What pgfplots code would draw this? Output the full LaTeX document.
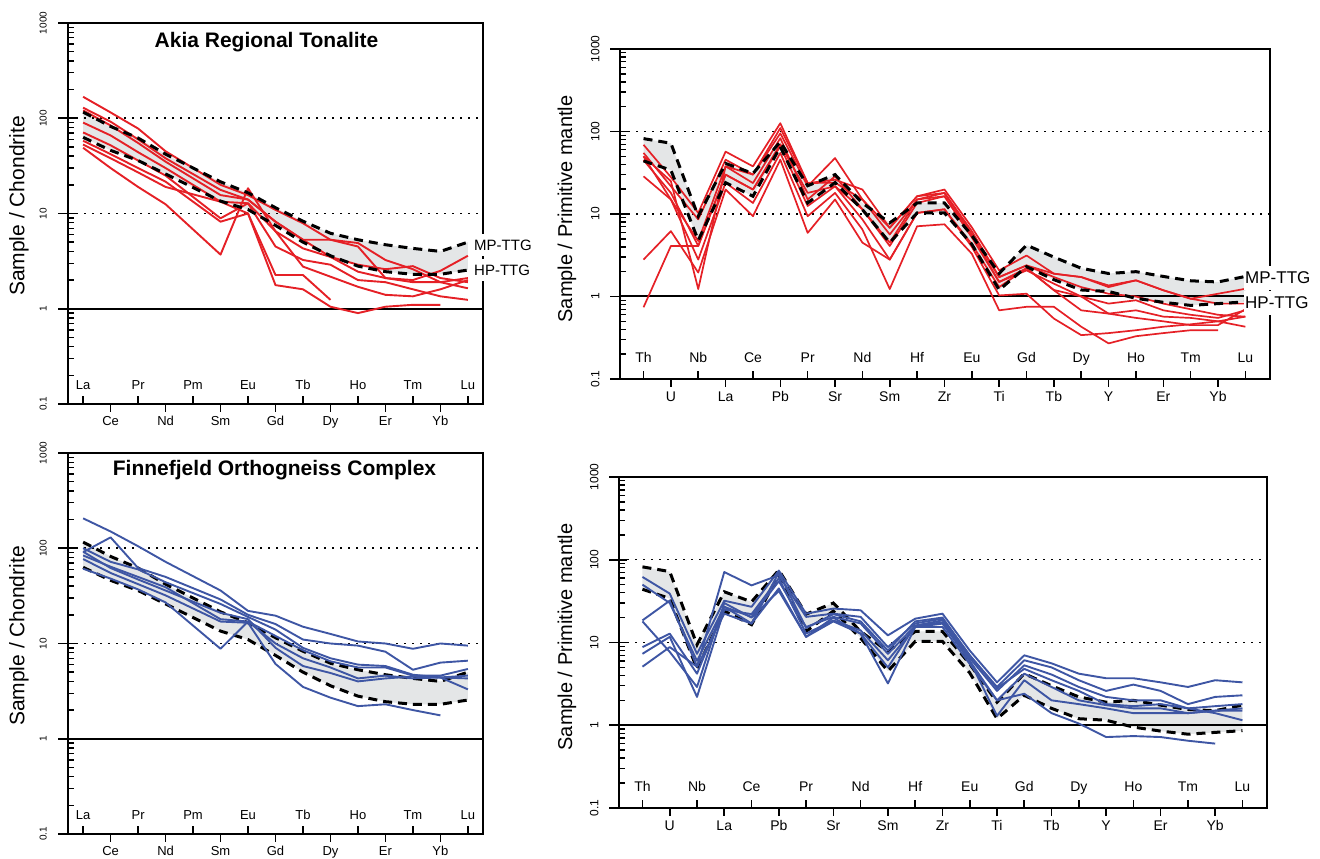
\documentclass[border=0pt]{standalone}
\usepackage{pgfplots}
\pgfplotsset{compat=1.18}
\usepackage{fontspec}
\setmainfont{Liberation Sans}
\definecolor{akred}{RGB}{229,32,38}
\definecolor{fnblue}{RGB}{62,86,164}
\definecolor{bandgray}{RGB}{228,230,231}

\newcommand\lbup[1]{\raisebox{14.4pt}{#1}}
\newcommand\lbdn[1]{\raisebox{-21.7pt}{#1}}
\newcommand\slup[1]{\raisebox{16pt}{#1}}
\newcommand\sldn[1]{\raisebox{-23pt}{#1}}
\newcommand\ylab[1]{\raisebox{21.4pt}{#1}}
\newcommand\yslab[1]{\raisebox{20.7pt}{#1}}

\newcommand\yticksat[1]{%
 \pgfplotsinvokeforeach{0.1,1,10,100,1000}{\draw[line width=1.6pt] ([xshift=-10pt]axis cs:#1,##1) -- ([xshift=8pt]axis cs:#1,##1);}%
 \pgfplotsinvokeforeach{0.2,0.3,0.4,0.5,0.6,0.7,0.8,0.9,2,3,4,5,6,7,8,9,20,30,40,50,60,70,80,90,200,300,400,500,600,700,800,900}{\draw[line width=1.4pt] (axis cs:#1,##1) -- ([xshift=6pt]axis cs:#1,##1);}%
}
\newcommand\xticksat[2]{%
 \pgfplotsinvokeforeach{#1}{\draw[line width=1.6pt] (axis cs:##1,0.1) -- ([yshift=8pt]axis cs:##1,0.1);}%
 \pgfplotsinvokeforeach{#2}{\draw[line width=1.6pt] (axis cs:##1,0.1) -- ([yshift=-8pt]axis cs:##1,0.1);}%
}

\pgfplotstableread{
x mp hp
0 116 63
1 82 46
2 62 36
3 42 26
5 21.5 13.5
6 16.5 11
7 11.5 7.5
8 8.3 5.0
9 6.2 3.6
10 5.3 2.8
11 4.7 2.45
12 4.3 2.3
13 4.0 2.3
14 5.0 2.55
}\reeref

\pgfplotstableread{
x mp hp
0 82 44
1 72 34
2 9.4 4.8
3 41 24
4 31 16.4
5 75 65
6 22 13.6
7 30 24
8 13.6 11.3
9 7.8 4.5
10 13.6 10.3
11 13.6 10.3
12 5.5 4.3
13 1.9 1.2
14 4.2 2.3
15 3.0 1.6
16 2.2 1.2
17 1.9 1.15
18 2.0 0.95
19 1.75 0.85
20 1.55 0.78
21 1.5 0.82
22 1.75 0.86
}\spiref

\begin{document}
\begin{tikzpicture}
\useasboundingbox (0,0) rectangle (1320pt,859pt);

% ---------------- Top left: Akia REE ----------------
\begin{axis}[scale only axis, width=415pt, height=381pt, at={(68pt,455pt)}, anchor=south west,
 xmin=-0.55, xmax=14.55, ymode=log, ymin=0.1, ymax=1000, clip=false,
 axis line style={line width=2.2pt}, tick style={draw=none},
 ytick={0.1,1,10,100,1000},
 yticklabels={\ylab{0.1},\ylab{1},\ylab{10},\ylab{100},\ylab{1000}},
 yticklabel style={rotate=90, anchor=base, font=\fontsize{10}{10}\selectfont},
 xtick={0,1,2,3,4,5,6,7,8,9,10,11,12,13,14},
 xticklabels={\lbup{La},\lbdn{Ce},\lbup{Pr},\lbdn{Nd},\lbup{Pm},\lbdn{Sm},\lbup{Eu},\lbdn{Gd},\lbup{Tb},\lbdn{Dy},\lbup{Ho},\lbdn{Er},\lbup{Tm},\lbdn{Yb},\lbup{Lu}},
 xticklabel style={anchor=base, font=\fontsize{13}{13}\selectfont}]
\addplot[forget plot, fill=bandgray, draw=none] coordinates {(0,116) (1,82) (2,62) (3,42) (5,21.5) (6,16.5) (7,11.5) (8,8.3) (9,6.2) (10,5.3) (11,4.7) (12,4.3) (13,4.0) (14,5.0) (14,2.55) (13,2.3) (12,2.3) (11,2.45) (10,2.8) (9,3.6) (8,5.0) (7,7.5) (6,11) (5,13.5) (3,26) (2,36) (1,46) (0,63)} -- cycle;
\addplot[forget plot, black, line width=1.5pt, dash pattern=on 1.5pt off 6.5pt] coordinates {(-0.55,100) (14.55,100)};
\addplot[forget plot, black, line width=1.5pt, dash pattern=on 1.5pt off 6.5pt] coordinates {(-0.55,10) (14.55,10)};
\addplot[forget plot, black, line width=2pt] coordinates {(-0.55,1) (14.55,1)};
\addplot[akred, line width=1.9pt, line join=round] coordinates {(0,168) (1,115) (2,78) (3,45) (5,20) (6,15.6) (7,10.9) (8,7.9) (9,5.3) (10,4.9) (11,3.25) (12,2.6) (13,1.9) (14,1.64)};
\addplot[akred, line width=1.9pt, line join=round] coordinates {(0,129) (1,92) (2,60) (3,38) (5,17.7) (6,14) (7,8.2) (8,5.3) (9,5.3) (10,4.5) (11,2.1) (12,2.0) (13,2.5) (14,3.6)};
\addplot[akred, line width=1.9pt, line join=round] coordinates {(0,121) (1,84) (2,55) (3,35) (5,15.6) (6,14) (7,8.2) (8,5.3) (9,3.5) (10,2.9) (11,2.6) (12,2.8) (13,2.1) (14,1.9)};
\addplot[akred, line width=1.9pt, line join=round] coordinates {(0,90) (1,66) (2,44) (3,30) (5,13.3) (6,12.8) (7,6.5) (8,4.3) (9,3.5) (10,2.45) (11,2.1) (12,1.9) (13,1.9) (14,2.1)};
\addplot[akred, line width=1.9pt, line join=round] coordinates {(0,71) (1,52) (2,36) (3,25) (5,8.9) (6,12.8) (7,4.5) (8,3.25) (9,2.9) (10,2.0) (11,1.9) (12,1.6) (13,1.35) (14,1.24)};
\addplot[akred, line width=1.9pt, line join=round] coordinates {(0,58) (1,42) (2,30) (3,21.6) (5,8.2) (6,10) (7,2.26) (8,2.26) (9,1.24)};
\addplot[akred, line width=1.9pt, line join=round] coordinates {(0,53) (1,38) (2,27) (3,19) (5,13.3) (6,10) (7,1.77) (8,1.6) (9,1.05) (10,0.9) (11,1.05) (12,1.1) (13,1.1)};
\addplot[akred, line width=1.9pt, line join=round] coordinates {(0,49) (1,30) (2,19) (3,12.5) (5,3.7) (6,18.4) (7,6.5) (8,2.77) (9,2.17) (10,1.7) (11,1.4) (12,1.35) (13,1.6) (14,2.0)};
\addplot[black, line width=3pt, dash pattern=on 9pt off 6pt] table[x=x,y=mp]{\reeref};
\addplot[black, line width=3pt, dash pattern=on 9pt off 6pt] table[x=x,y=hp]{\reeref};
\yticksat{-0.55}
\xticksat{0,2,4,6,8,10,12,14}{1,3,5,7,9,11,13}
\end{axis}

% ---------------- Bottom left: Finnefjeld REE ----------------
\begin{axis}[scale only axis, width=415pt, height=381pt, at={(68pt,25pt)}, anchor=south west,
 xmin=-0.55, xmax=14.55, ymode=log, ymin=0.1, ymax=1000, clip=false,
 axis line style={line width=2.2pt}, tick style={draw=none},
 ytick={0.1,1,10,100,1000},
 yticklabels={\ylab{0.1},\ylab{1},\ylab{10},\ylab{100},\ylab{1000}},
 yticklabel style={rotate=90, anchor=base, font=\fontsize{10}{10}\selectfont},
 xtick={0,1,2,3,4,5,6,7,8,9,10,11,12,13,14},
 xticklabels={\lbup{La},\lbdn{Ce},\lbup{Pr},\lbdn{Nd},\lbup{Pm},\lbdn{Sm},\lbup{Eu},\lbdn{Gd},\lbup{Tb},\lbdn{Dy},\lbup{Ho},\lbdn{Er},\lbup{Tm},\lbdn{Yb},\lbup{Lu}},
 xticklabel style={anchor=base, font=\fontsize{13}{13}\selectfont}]
\addplot[forget plot, fill=bandgray, draw=none] coordinates {(0,116) (1,82) (2,62) (3,42) (5,21.5) (6,16.5) (7,11.5) (8,8.3) (9,6.2) (10,5.3) (11,4.7) (12,4.3) (13,4.0) (14,5.0) (14,2.55) (13,2.3) (12,2.3) (11,2.45) (10,2.8) (9,3.6) (8,5.0) (7,7.5) (6,11) (5,13.5) (3,26) (2,36) (1,46) (0,63)} -- cycle;
\addplot[forget plot, black, line width=1.5pt, dash pattern=on 1.5pt off 6.5pt] coordinates {(-0.55,100) (14.55,100)};
\addplot[forget plot, black, line width=1.5pt, dash pattern=on 1.5pt off 6.5pt] coordinates {(-0.55,10) (14.55,10)};
\addplot[forget plot, black, line width=2pt] coordinates {(-0.55,1) (14.55,1)};
\addplot[black, line width=3pt, dash pattern=on 9pt off 6pt] table[x=x,y=mp]{\reeref};
\addplot[black, line width=3pt, dash pattern=on 9pt off 6pt] table[x=x,y=hp]{\reeref};
\addplot[fnblue, line width=1.9pt, line join=round] coordinates {(0,206) (1,150) (2,105) (3,72) (5,36) (6,22) (7,19.6) (8,15) (9,12.6) (10,10.5) (11,10) (12,8.8) (13,10) (14,9.5)};
\addplot[fnblue, line width=1.9pt, line join=round] coordinates {(0,91) (1,130) (2,62) (3,50) (5,29) (6,20) (7,16) (8,11) (9,10) (10,9.5) (11,8.2) (12,5.3) (13,6.3) (14,6.6)};
\addplot[fnblue, line width=1.9pt, line join=round] coordinates {(0,100) (1,72) (2,60) (3,44) (5,26) (6,19) (7,14) (8,9) (9,7) (10,6) (11,5.8) (12,4.7) (13,4.4) (14,4.3)};
\addplot[fnblue, line width=1.9pt, line join=round] coordinates {(0,84) (1,64) (2,50) (3,39) (5,18) (6,17) (7,12) (8,8.5) (9,6.5) (10,5.6) (11,5.6) (12,4.6) (13,4.6) (14,5.4)};
\addplot[fnblue, line width=1.9pt, line join=round] coordinates {(0,61) (1,48) (2,37) (3,27) (5,8.8) (6,17) (7,10) (8,7) (9,5.6) (10,4.3) (11,4.6) (12,4.3) (13,4.4) (14,4.6)};
\addplot[fnblue, line width=1.9pt, line join=round] coordinates {(0,77) (1,55) (2,42) (3,32) (5,17) (6,16.5) (7,6.1) (8,3.5) (9,2.7) (10,2.2) (11,2.3) (12,2.0) (13,1.76)};
\addplot[fnblue, line width=1.9pt, line join=round] coordinates {(0,92) (1,62) (2,47) (3,36) (5,21) (6,18) (7,9) (8,5.8) (9,4.9) (10,4.0) (11,4.3) (12,4.5) (13,4.4) (14,3.3)};
\yticksat{-0.55}
\xticksat{0,2,4,6,8,10,12,14}{1,3,5,7,9,11,13}
\end{axis}

% ---------------- Top right: Akia spider ----------------
\begin{axis}[scale only axis, width=650pt, height=330pt, at={(620pt,480pt)}, anchor=south west,
 xmin=-0.86, xmax=22.9, ymode=log, ymin=0.1, ymax=1000, clip=false,
 axis line style={line width=2.2pt}, tick style={draw=none},
 ytick={0.1,1,10,100,1000},
 yticklabels={\yslab{0.1},\yslab{1},\yslab{10},\yslab{100},\yslab{1000}},
 yticklabel style={rotate=90, anchor=base, font=\fontsize{12}{12}\selectfont},
 xtick={0,1,2,3,4,5,6,7,8,9,10,11,12,13,14,15,16,17,18,19,20,21,22},
 xticklabels={\slup{Th},\sldn{U},\slup{Nb},\sldn{La},\slup{Ce},\sldn{Pb},\slup{Pr},\sldn{Sr},\slup{Nd},\sldn{Sm},\slup{Hf},\sldn{Zr},\slup{Eu},\sldn{Ti},\slup{Gd},\sldn{Tb},\slup{Dy},\sldn{Y},\slup{Ho},\sldn{Er},\slup{Tm},\sldn{Yb},\slup{Lu}},
 xticklabel style={anchor=base, font=\fontsize{14}{14}\selectfont}]
\addplot[forget plot, fill=bandgray, draw=none] coordinates {(0,82) (1,72) (2,9.4) (3,41) (4,31) (5,75) (6,22) (7,30) (8,13.6) (9,7.8) (10,13.6) (11,13.6) (12,5.5) (13,1.9) (14,4.2) (15,3.0) (16,2.2) (17,1.9) (18,2.0) (19,1.75) (20,1.55) (21,1.5) (22,1.75) (22,0.86) (21,0.82) (20,0.78) (19,0.85) (18,0.95) (17,1.15) (16,1.2) (15,1.6) (14,2.3) (13,1.2) (12,4.3) (11,10.3) (10,10.3) (9,4.5) (8,11.3) (7,24) (6,13.6) (5,65) (4,16.4) (3,24) (2,4.8) (1,34) (0,44)} -- cycle;
\addplot[forget plot, black, line width=1.5pt, dash pattern=on 1.5pt off 6.5pt] coordinates {(-0.86,100) (22.9,100)};
\addplot[forget plot, black, line width=1.5pt, dash pattern=on 1.5pt off 6.5pt] coordinates {(-0.86,10) (22.9,10)};
\addplot[forget plot, black, line width=2pt] coordinates {(-0.86,1) (22.9,1)};
\addplot[akred, line width=1.7pt, line join=round] coordinates {(0,69) (1,28) (2,10.3) (3,57) (4,37.8) (5,126) (6,23.7) (7,26) (8,19.8) (9,6.8) (10,16.4) (11,19.8) (12,6.9) (13,2.07) (14,3.14) (15,1.89) (16,1.72) (17,1.36) (18,1.57) (19,1.19) (20,0.94) (21,1.08) (22,1.24)};
\addplot[akred, line width=1.7pt, line join=round] coordinates {(0,55) (1,21.7) (2,8.6) (3,45.5) (4,30) (5,95) (6,21.7) (7,47.6) (8,15) (9,5.65) (10,15) (11,18) (12,5.7) (13,1.72) (14,2.38) (15,1.72) (16,1.3) (17,1.08) (18,1.0) (19,0.82) (20,0.7) (21,0.6) (22,0.57)};
\addplot[akred, line width=1.7pt, line join=round] coordinates {(0,50) (1,15) (2,4.7) (3,37.8) (4,23.7) (5,83) (6,15) (7,28.6) (8,11.4) (9,4.1) (10,13.6) (11,16.4) (12,5.2) (13,1.5) (14,2.07) (15,1.43) (16,1.0) (17,0.82) (18,0.9) (19,0.68) (20,0.6) (21,0.55) (22,0.68)};
\addplot[akred, line width=1.7pt, line join=round] coordinates {(0,45) (1,18) (2,4.1) (3,30) (4,19.8) (5,66) (6,12.5) (7,21.7) (8,8.6) (9,2.8) (10,10.3) (11,11.4) (12,4.3) (13,1.3) (14,2.2) (15,1.19) (16,0.68) (17,0.62) (18,0.68) (19,0.57) (20,0.55) (21,0.5) (22,0.43)};
\addplot[akred, line width=1.7pt, line join=round] coordinates {(0,28.6) (1,15) (2,2.8) (3,24) (4,13.6) (5,55) (6,9.4) (7,18) (8,6.5) (9,1.23) (10,7.1) (11,7.5) (12,3.3) (13,0.68) (14,0.75) (15,0.75) (16,0.43) (17,0.27) (18,0.33) (19,0.36) (20,0.39) (21,0.39)};
\addplot[akred, line width=1.7pt, line join=round] coordinates {(0,2.8) (1,6.2) (2,1.95) (3,19.8) (4,9.4) (5,45.5) (6,5.9) (7,15) (8,4.5) (9,2.8) (10,10.3) (11,11.4) (12,4.0) (13,1.03) (14,1.08) (15,0.54) (16,0.34) (17,0.36) (18,0.39) (19,0.43) (20,0.46) (21,0.5) (22,0.57)};
\addplot[akred, line width=1.7pt, line join=round] coordinates {(0,0.74) (1,4.1) (2,4.1) (3,30) (4,19.8) (5,70) (6,18) (7,21.7) (8,11.4) (9,4.5) (10,15) (11,16.4) (12,5.5) (13,1.5) (14,2.2) (15,1.2) (16,1.0) (17,0.62) (18,0.55) (19,0.5) (20,0.45) (21,0.45) (22,0.7)};
\addplot[akred, line width=1.7pt, line join=round] coordinates {(0,50) (1,25) (2,1.23) (3,37.8) (4,30) (5,110) (6,23.7) (7,24) (8,15) (9,6.8) (10,16.4) (11,18) (12,6.2) (13,1.72) (14,2.38) (15,1.89) (16,1.72) (17,1.3) (18,1.57) (19,1.19) (20,0.94) (21,0.82) (22,0.82)};
\addplot[black, line width=3pt, dash pattern=on 9pt off 6pt] table[x=x,y=mp]{\spiref};
\addplot[black, line width=3pt, dash pattern=on 9pt off 6pt] table[x=x,y=hp]{\spiref};
\yticksat{-0.86}
\xticksat{0,2,4,6,8,10,12,14,16,18,20,22}{1,3,5,7,9,11,13,15,17,19,21}
\end{axis}

% ---------------- Bottom right: Finnefjeld spider ----------------
\begin{axis}[scale only axis, width=648pt, height=331pt, at={(619pt,51pt)}, anchor=south west,
 xmin=-0.86, xmax=22.9, ymode=log, ymin=0.1, ymax=1000, clip=false,
 axis line style={line width=2.2pt}, tick style={draw=none},
 ytick={0.1,1,10,100,1000},
 yticklabels={\yslab{0.1},\yslab{1},\yslab{10},\yslab{100},\yslab{1000}},
 yticklabel style={rotate=90, anchor=base, font=\fontsize{12}{12}\selectfont},
 xtick={0,1,2,3,4,5,6,7,8,9,10,11,12,13,14,15,16,17,18,19,20,21,22},
 xticklabels={\slup{Th},\sldn{U},\slup{Nb},\sldn{La},\slup{Ce},\sldn{Pb},\slup{Pr},\sldn{Sr},\slup{Nd},\sldn{Sm},\slup{Hf},\sldn{Zr},\slup{Eu},\sldn{Ti},\slup{Gd},\sldn{Tb},\slup{Dy},\sldn{Y},\slup{Ho},\sldn{Er},\slup{Tm},\sldn{Yb},\slup{Lu}},
 xticklabel style={anchor=base, font=\fontsize{14}{14}\selectfont}]
\addplot[forget plot, fill=bandgray, draw=none] coordinates {(0,82) (1,72) (2,9.4) (3,41) (4,31) (5,75) (6,22) (7,30) (8,13.6) (9,7.8) (10,13.6) (11,13.6) (12,5.5) (13,1.9) (14,4.2) (15,3.0) (16,2.2) (17,1.9) (18,2.0) (19,1.75) (20,1.55) (21,1.5) (22,1.75) (22,0.86) (21,0.82) (20,0.78) (19,0.85) (18,0.95) (17,1.15) (16,1.2) (15,1.6) (14,2.3) (13,1.2) (12,4.3) (11,10.3) (10,10.3) (9,4.5) (8,11.3) (7,24) (6,13.6) (5,65) (4,16.4) (3,24) (2,4.8) (1,34) (0,44)} -- cycle;
\addplot[forget plot, black, line width=1.5pt, dash pattern=on 1.5pt off 6.5pt] coordinates {(-0.86,100) (22.9,100)};
\addplot[forget plot, black, line width=1.5pt, dash pattern=on 1.5pt off 6.5pt] coordinates {(-0.86,10) (22.9,10)};
\addplot[forget plot, black, line width=2pt] coordinates {(-0.86,1) (22.9,1)};
\addplot[black, line width=3pt, dash pattern=on 9pt off 6pt] table[x=x,y=mp]{\spiref};
\addplot[black, line width=3pt, dash pattern=on 9pt off 6pt] table[x=x,y=hp]{\spiref};
\addplot[fnblue, line width=1.9pt, line join=round] coordinates {(0,62) (1,39) (2,7.3) (3,32) (4,27) (5,74) (6,22.3) (7,25.7) (8,24.5) (9,12.2) (10,19.4) (11,22.3) (12,8) (13,3.3) (14,7.0) (15,5.6) (16,4.2) (17,3.7) (18,3.7) (19,3.3) (20,2.9) (21,3.5) (22,3.3)};
\addplot[fnblue, line width=1.9pt, line join=round] coordinates {(0,18.5) (1,32) (2,5.1) (3,71) (4,49) (5,65) (6,20.4) (7,22.3) (8,20.4) (9,8.8) (10,17) (11,19.4) (12,7) (13,2.9) (14,6.1) (15,5.0) (16,3.5) (17,2.6) (18,3.1) (19,2.6) (20,1.8) (21,2.2) (22,2.3)};
\addplot[fnblue, line width=1.9pt, line join=round] coordinates {(0,8.8) (1,12.8) (2,4.2) (3,27) (4,20.4) (5,55) (6,15.4) (7,20.4) (8,17) (9,7.3) (10,16) (11,18.5) (12,6.5) (13,2.6) (14,5.3) (15,4.1) (16,2.9) (17,2.2) (18,2.0) (19,2.0) (20,1.6) (21,1.7) (22,1.8)};
\addplot[fnblue, line width=1.9pt, line join=round] coordinates {(0,7.3) (1,11.7) (2,2.2) (3,25) (4,22) (5,60) (6,12.8) (7,18.5) (8,14) (9,6.1) (10,15.4) (11,16.9) (12,6) (13,2.0) (14,4.2) (15,2.9) (16,2.0) (17,1.75) (18,1.6) (19,1.6) (20,1.4) (21,1.5) (22,1.6)};
\addplot[fnblue, line width=1.9pt, line join=round] coordinates {(0,5.1) (1,8.8) (2,5.1) (3,22.3) (4,16.9) (5,45) (6,11.7) (7,18) (8,12.8) (9,5.0) (10,16) (11,17.5) (12,6) (13,1.3) (14,3.5) (15,2.0) (16,1.8) (17,1.6) (18,1.4) (19,1.4) (20,1.4) (21,1.5) (22,1.5)};
\addplot[fnblue, line width=1.9pt, line join=round] coordinates {(0,18) (1,7.7) (2,2.9) (3,30) (4,20) (5,42) (6,11.7) (7,20) (8,12.8) (9,3.2) (10,15.4) (11,15.4) (12,5.5) (13,2.0) (14,2.4) (15,1.4) (16,1.05) (17,0.72) (18,0.74) (19,0.72) (20,0.65) (21,0.6)};
\addplot[fnblue, line width=1.9pt, line join=round] coordinates {(0,50) (1,30) (2,6) (3,27) (4,17) (5,70) (6,15) (7,22) (8,18) (9,8) (10,18) (11,20) (12,7) (13,2.8) (14,4.8) (15,3.5) (16,2.6) (17,1.8) (18,1.7) (19,1.8) (20,1.6) (21,1.4) (22,1.15)};
\yticksat{-0.86}
\xticksat{0,2,4,6,8,10,12,14,16,18,20,22}{1,3,5,7,9,11,13,15,17,19,21}
\end{axis}

% ---------------- Texts ----------------
\node[rotate=90, font=\fontsize{21}{21}\selectfont] at (19pt,653pt) {Sample / Chondrite};
\node[rotate=90, font=\fontsize{21}{21}\selectfont] at (19pt,223pt) {Sample / Chondrite};
\node[rotate=90, font=\fontsize{20}{20}\selectfont] at (567pt,650pt) {Sample / Primitive mantle};
\node[rotate=90, font=\fontsize{20}{20}\selectfont] at (567pt,222pt) {Sample / Primitive mantle};
\node[font=\bfseries\fontsize{21}{21}\selectfont] at (266.5pt,817pt) {Akia Regional Tonalite};
\node[font=\bfseries\fontsize{21}{21}\selectfont] at (274.5pt,389pt) {Finnefjeld Orthogneiss Complex};
\node[anchor=west, fill=white, inner xsep=1pt, inner ysep=6pt, font=\fontsize{15}{15}\selectfont] at (473pt,614pt) {MP-TTG};
\node[anchor=west, fill=white, inner xsep=1pt, inner ysep=6pt, font=\fontsize{15}{15}\selectfont] at (473pt,589pt) {HP-TTG};
\node[anchor=west, fill=white, inner xsep=1pt, inner ysep=6pt, font=\fontsize{17}{17}\selectfont] at (1244pt,581pt) {MP-TTG};
\node[anchor=west, fill=white, inner xsep=1pt, inner ysep=6pt, font=\fontsize{17}{17}\selectfont] at (1244pt,556pt) {HP-TTG};
\end{tikzpicture}
\end{document}
